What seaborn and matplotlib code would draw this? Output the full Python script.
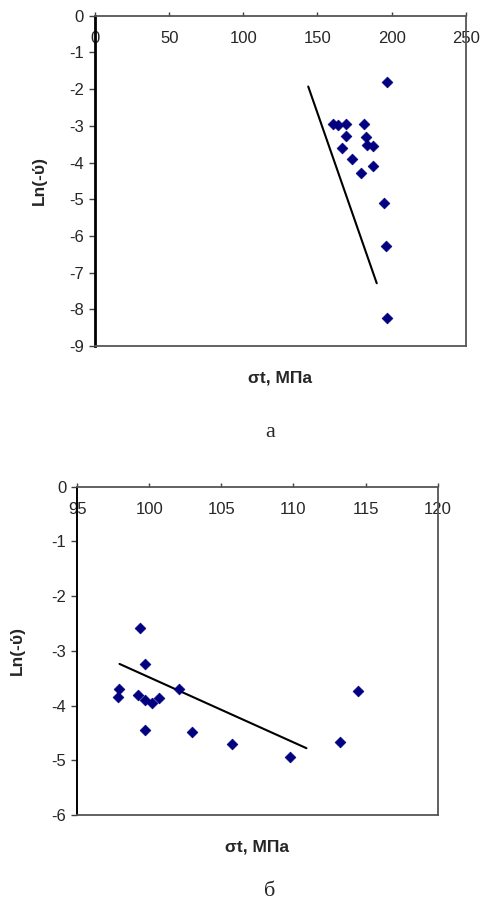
import numpy as np
import pandas as pd
import seaborn as sns
import matplotlib
matplotlib.use("Agg")
import matplotlib.pyplot as plt

# panel a data
sigma_a = [197.1, 160.3, 163.6, 169.0, 181.6, 169.0, 182.5, 183.2, 187.7,
           166.8, 173.5, 187.7, 179.1, 195.1, 196.0, 197.1]
lnv_a = [-1.81, -2.95, -2.98, -2.95, -2.95, -3.28, -3.30, -3.52, -3.55,
         -3.61, -3.91, -4.09, -4.29, -5.09, -6.27, -8.23]
trend_x_a = [143.8, 190.0]
trend_y_a = [-1.93, -7.29]

# panel b data
sigma_b = [99.38, 99.72, 97.91, 97.80, 99.19, 99.70, 100.16, 100.67,
           102.03, 99.72, 102.95, 105.75, 109.73, 113.20, 114.45]
lnv_b = [-2.58, -3.24, -3.70, -3.84, -3.80, -3.90, -3.96, -3.86,
         -3.69, -4.44, -4.48, -4.70, -4.94, -4.67, -3.73]
trend_x_b = [97.93, 110.9]
trend_y_b = [-3.24, -4.78]

xticks_a = [0, 50, 100, 150, 200, 250]
yticks_a = list(range(0, -10, -1))
xticks_b = [95, 100, 105, 110, 115, 120]
yticks_b = list(range(0, -7, -1))

xlabel = "σt, МПа"
ylabel = "Ln(-ύ)"
captions = ["а", "б"]

sns.set_style("white")
plt.rcParams['font.family'] = ['Liberation Sans', 'DejaVu Sans']
plt.rcParams['axes.unicode_minus'] = False

fig = plt.figure(figsize=(4.83, 9.02), dpi=100)
ax_a = fig.add_axes([0.1967, 0.6164, 0.7675, 0.3662])
ax_b = fig.add_axes([0.160, 0.0965, 0.746, 0.364])


def draw_panel(ax, xs, ys, tx, ty, xticks, yticks, left_lw):
    df = pd.DataFrame({"x": xs, "y": ys})
    tr = pd.DataFrame({"x": tx, "y": ty})
    sns.lineplot(data=tr, x="x", y="y", color="black", lw=1.5, ax=ax, zorder=2)
    sns.scatterplot(data=df, x="x", y="y", marker="D", s=30, color="#000080",
                    edgecolor="#000080", linewidth=0.5, ax=ax, zorder=3)
    ax.set_xlim(xticks[0], xticks[-1])
    ax.set_ylim(yticks[-1], yticks[0])
    ax.set_xticks(xticks)
    ax.set_yticks(yticks)
    ax.xaxis.tick_top()
    ax.tick_params(axis='x', direction='out', length=3, width=1, color="#404040",
                   pad=-25, labelsize=12)
    ax.tick_params(axis='y', direction='out', length=4, width=1, color="#404040",
                   pad=4, labelsize=12, left=True)
    for side in ["top", "right", "bottom"]:
        ax.spines[side].set_color("#555555")
        ax.spines[side].set_linewidth(1.3)
    ax.spines["left"].set_color("black")
    ax.spines["left"].set_linewidth(left_lw)
    ax.set_xlabel("")
    ax.set_ylabel("")


draw_panel(ax_a, sigma_a, lnv_a, trend_x_a, trend_y_a, xticks_a, yticks_a, 2)
draw_panel(ax_b, sigma_b, lnv_b, trend_x_b, trend_y_b, xticks_b, yticks_b, 1.4)

for ax, ylx in [(ax_a, -0.151), (ax_b, -0.165)]:
    ax.text(0.5, -0.097, xlabel, transform=ax.transAxes, ha="center", va="center",
            fontsize=12.5, fontweight="bold")
    ax.text(ylx, 0.5, ylabel, transform=ax.transAxes, ha="center", va="center",
            rotation=90, fontsize=12.5, fontweight="bold")

fig.text(270 / 483, 1 - 433 / 902, captions[0], ha="center", va="center",
         fontsize=16, family=['Liberation Serif', 'DejaVu Serif'])
fig.text(270 / 483, 1 - 892 / 902, captions[1], ha="center", va="center",
         fontsize=16, family=['Liberation Serif', 'DejaVu Serif'])

fig.savefig("out.png", dpi=100)
